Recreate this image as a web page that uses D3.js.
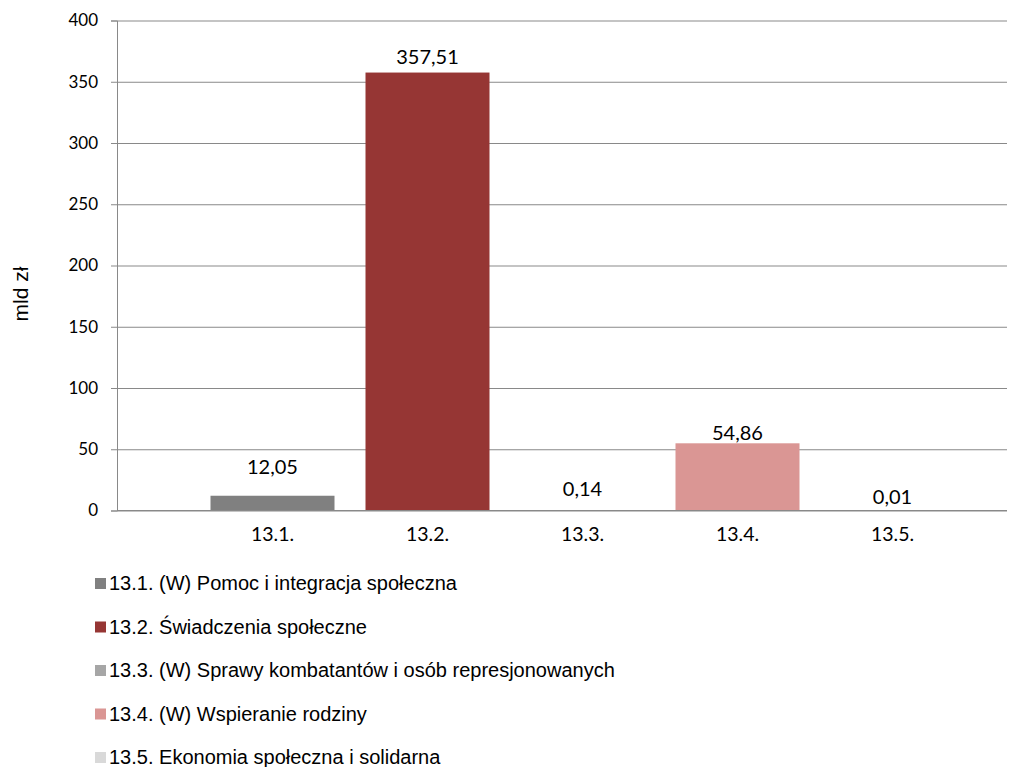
<!DOCTYPE html>
<html>
<head>
<meta charset="utf-8">
<script src="https://cdn.jsdelivr.net/npm/d3@7"></script>
<style>
  html, body { margin: 0; padding: 0; background: #fff; }
  svg { display: block; }
</style>
</head>
<body>
<svg id="chart" width="1035" height="767"></svg>
<script>
// ---- data ----
const categories = ["13.1.", "13.2.", "13.3.", "13.4.", "13.5."];
const values = [12.05, 357.51, 0.14, 54.86, 0.01];
const valueLabels = ["12,05", "357,51", "0,14", "54,86", "0,01"];
const legendLabels = [
  "13.1. (W) Pomoc i integracja społeczna",
  "13.2. Świadczenia społeczne",
  "13.3. (W) Sprawy kombatantów i osób represjonowanych",
  "13.4. (W) Wspieranie rodziny",
  "13.5. Ekonomia społeczna i solidarna"
];
const yTicks = [0, 50, 100, 150, 200, 250, 300, 350, 400];
const colors = ["#808080", "#963634", "#a6a6a6", "#da9694", "#d9d9d9"];
const yTitle = "mld zł";

// ---- layout ----
const svg = d3.select("#chart");
const plot = { left: 117, right: 1007, top: 20.5, bottom: 510.5 };
const gridColor = "#898989";
const labelFont = "Lato, 'Open Sans', sans-serif";

const x = d3.scaleBand()
  .domain(categories)
  .range([195, 970])
  .paddingInner(0.2)
  .paddingOuter(0.1);

const y = d3.scaleLinear().domain([0, 400]).range([plot.bottom, plot.top]);

// gridlines + y axis ticks
const yAxis = d3.axisLeft(y).tickValues(yTicks).tickSize(6).tickPadding(13)
  .tickFormat(d3.format("d"));
const gy = svg.append("g").attr("transform", `translate(${plot.left},0)`).call(yAxis);
gy.select(".domain").attr("stroke", gridColor);
gy.selectAll(".tick line").attr("stroke", gridColor);
gy.selectAll(".tick text").attr("font-family", labelFont).attr("font-size", 17).attr("fill", "#000");
gy.selectAll(".tick").append("line")
  .attr("x1", 0).attr("x2", plot.right - plot.left)
  .attr("stroke", gridColor).attr("stroke-width", 1);

// bars
svg.append("g").selectAll("rect").data(values).join("rect")
  .attr("x", (d, i) => x(categories[i]))
  .attr("width", x.bandwidth())
  .attr("y", d => y(d))
  .attr("height", d => y(0) - y(d))
  .attr("fill", (d, i) => colors[i]);

// x axis baseline (over bars)
svg.append("line")
  .attr("x1", plot.left).attr("x2", plot.right)
  .attr("y1", y(0)).attr("y2", y(0))
  .attr("stroke", gridColor);

// category labels
const xAxis = d3.axisBottom(x).tickSize(0).tickPadding(0);
const gx = svg.append("g").attr("transform", `translate(0,${y(0)})`).call(xAxis);
gx.select(".domain").remove();
gx.selectAll(".tick text")
  .attr("y", 24).attr("dy", "0.35em")
  .attr("font-family", labelFont).attr("font-size", 19.5).attr("fill", "#000");

// value labels (lift above bar top, mimicking the original placement)
const labelLift = [29, 16, 21, 10, 13];
svg.append("g").selectAll("text").data(values).join("text")
  .attr("x", (d, i) => x(categories[i]) + x.bandwidth() / 2)
  .attr("y", (d, i) => y(d) - labelLift[i])
  .attr("dy", "0.35em")
  .attr("text-anchor", "middle")
  .attr("font-family", labelFont)
  .attr("font-size", 20)
  .attr("fill", "#000")
  .text((d, i) => valueLabels[i]);

// y title
svg.append("text")
  .attr("transform", "translate(28,294) rotate(-90)")
  .attr("text-anchor", "middle")
  .attr("font-family", "'Liberation Sans', Arial, sans-serif")
  .attr("font-size", 21)
  .attr("fill", "#000")
  .text(yTitle);

// legend
const legend = svg.append("g").selectAll("g").data(legendLabels).join("g")
  .attr("transform", (d, i) => `translate(95,${583 + i * 43.5})`);
legend.append("rect")
  .attr("x", 0).attr("y", -5).attr("width", 11).attr("height", 11)
  .attr("fill", (d, i) => colors[i]);
legend.append("text")
  .attr("x", 14).attr("dy", "0.35em")
  .attr("font-family", "'Liberation Sans', Arial, sans-serif")
  .attr("font-size", 20)
  .attr("fill", "#000")
  .text(d => d);
</script>
</body>
</html>
